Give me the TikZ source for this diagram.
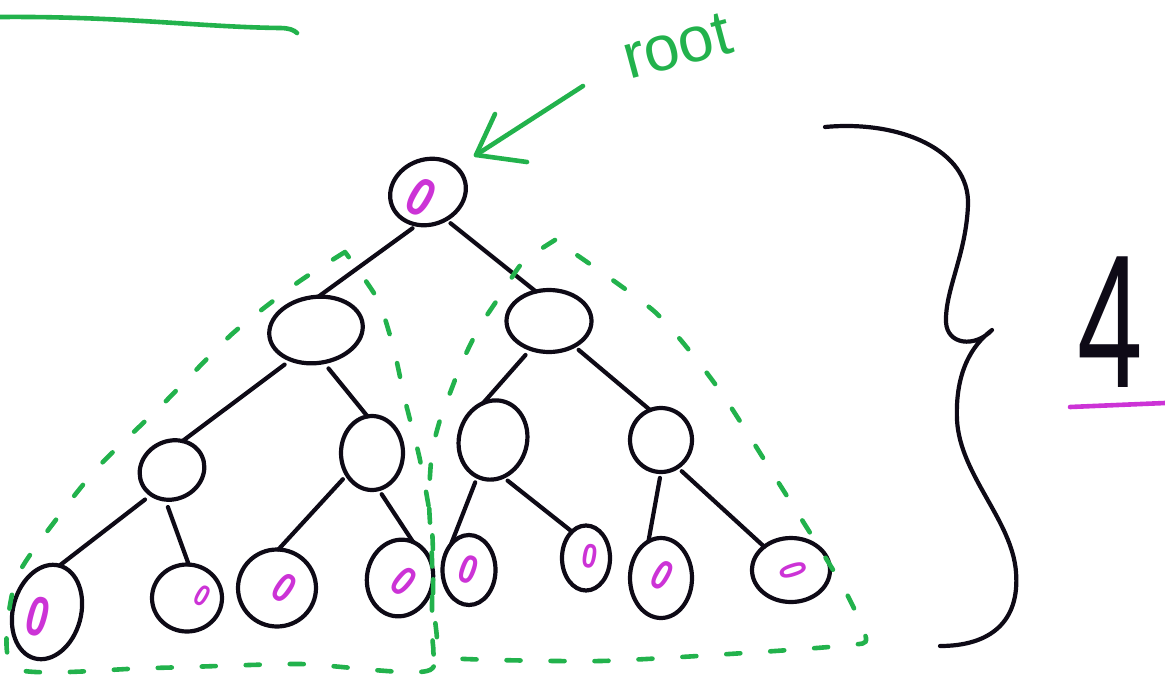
\documentclass[tikz,border=0pt]{standalone}
\usepackage{fontspec}
\setmainfont{Liberation Sans}
\usetikzlibrary{shapes.geometric}
\definecolor{penG}{RGB}{34,178,76}
\definecolor{penM}{RGB}{204,51,214}
\definecolor{penK}{RGB}{14,10,22}
\tikzset{
  nd/.style={ellipse, draw=penK, line width=4.2pt, inner sep=0pt, outer sep=0pt},
  edge/.style={draw=penK, line width=4.2pt, line cap=round, line join=round},
  zero/.style={text=penM, inner sep=0pt, font=\fontsize{#1}{#1}\selectfont\bfseries},
  gdash/.style={draw=penG, line width=4.6pt, line cap=round, dash pattern=on 14pt off 30pt},
  gline/.style={draw=penG, line width=4.6pt, line cap=round, line join=round},
  mline/.style={draw=penM, line width=4.6pt, line cap=round},
}
\begin{document}
\begin{tikzpicture}[x=1pt,y=-1pt]
\useasboundingbox (0,0) rectangle (1165,681);
% tree nodes
\node[nd, minimum width=77pt, minimum height=65pt, rotate=20] (root) at (428,192) {};
\node[nd, minimum width=94pt, minimum height=66pt, rotate=8] (a) at (316,330) {};
\node[nd, minimum width=85pt, minimum height=62pt] (b) at (549,321) {};
\node[nd, minimum width=66pt, minimum height=58pt, rotate=25] (aa) at (172,470) {};
\node[nd, minimum width=62pt, minimum height=74pt] (ab) at (372,453) {};
\node[nd, minimum width=68pt, minimum height=80pt, rotate=-15] (ba) at (493,440) {};
\node[nd, minimum width=62pt, minimum height=64pt] (bb) at (661,440) {};
\node[nd, minimum width=68pt, minimum height=96pt, rotate=-15] (l1) at (47,612) {};
\node[nd, minimum width=70pt, minimum height=67pt] (l2) at (187,598) {};
\node[nd, minimum width=78pt, minimum height=77pt] (l3) at (277,588) {};
\node[nd, minimum width=66pt, minimum height=77pt, rotate=-10] (l4) at (400,578) {};
\node[nd, minimum width=53pt, minimum height=70pt] (l5) at (469,570) {};
\node[nd, minimum width=48pt, minimum height=65pt] (l6) at (586,558) {};
\node[nd, minimum width=62pt, minimum height=80pt] (l7) at (661,578) {};
\node[nd, minimum width=78pt, minimum height=64pt] (l8) at (791,570) {};
% magenta zeros
\node[zero=54, rotate=-30, xscale=0.8] (z0) at (421,197) {0};
\node[zero=56, rotate=-15, xscale=0.7] (z1) at (38,617) {0};
\node[zero=30, rotate=-30, xscale=0.8] (z2) at (202,596) {0};
\node[zero=42, rotate=-35, xscale=0.8] (z3) at (284,588) {0};
\node[zero=42, rotate=-40, xscale=0.8] (z4) at (404,581) {0};
\node[zero=40, rotate=-20, xscale=0.8] (z5) at (469,570) {0};
\node[zero=34, rotate=-10, xscale=0.8] (z6) at (590,556) {0};
\node[zero=42, rotate=-30, xscale=0.75] (z7) at (662,575) {0};
\node[zero=38, rotate=-72, xscale=0.7] (z8) at (793,570) {0};
% edges
\draw[edge, shorten <=6pt] (root.232) -- (a.78);
\draw[edge, shorten <=6pt] (root.283) -- (b.114);
\draw[edge, shorten <=8pt] (a.222) -- (aa.45);
\draw[edge, shorten <=8pt] (a.275) -- (ab.97);
\draw[edge, shorten <=8pt] (b.237) -- (ba.120);
\draw[edge, shorten <=6pt] (b.315) -- (bb.110);
\draw[edge, shorten <=8pt] (aa.205) -- (l1.90);
\draw[edge, shorten <=8pt] (aa.232) -- (l2.87);
\draw[edge, shorten <=6pt] (ab.221) -- (l3.88);
\draw[edge, shorten <=6pt] (ab.280) -- (l4.80);
\draw[edge, shorten <=6pt] (ba.262) -- (l5.125);
\draw[edge, shorten <=6pt] (ba.300) -- (l6.118);
\draw[edge, shorten <=6pt] (bb.270) -- (l7.109);
\draw[edge, shorten <=6pt] (bb.301) -- (l8.139);
% green dashed subtree outlines
\draw[gdash] plot[smooth, tension=0.4] coordinates {(345,252) (297,283) (232,334) (165,402) (100,465) (58,517) (15,582) (14,668) (150,668) (300,664) (430,670) (433,600) (432,530) (420,460) (405,400) (394,350) (378,300) (345,252)};
\draw[gdash] plot[smooth, tension=0.4] coordinates {(555,240) (523,262) (502,293) (480,326) (463,360) (450,393) (440,420) (432,452) (429,500) (432,560) (433,645) (447,658) (600,661) (760,652) (850,645) (866,638) (842,585) (780,485) (718,388) (655,312) (555,240)};
% arrow and label
\coordinate (arrS) at (583,86);
\coordinate (arrT) at (476,155);
\coordinate (arrA) at (495,114);
\coordinate (arrB) at (527,162);
\draw[gline] (arrS) -- (arrT);
\draw[gline] (arrA) -- (arrT) -- (arrB);
\node[text=penG, font=\fontsize{64}{64}\selectfont, rotate=15, inner sep=0pt] (lbl) at (677,46) {root};
% top-left line
\draw[gline] (0,17) .. controls (120,16) and (200,27) .. (280,28) .. controls (289,28) and (294,30) .. (297,33);
% brace
\draw[edge] (825,127) .. controls (900,120) and (970,150) .. (968,205)
  .. controls (966,255) and (945,290) .. (946,322)
  .. controls (947,345) and (975,348) .. (992,330)
  .. controls (972,345) and (955,372) .. (957,420)
  .. controls (960,475) and (1012,520) .. (1016,572)
  .. controls (1020,622) and (990,646) .. (940,646);
% 4 with underline
\node[text=penK, font=\fontsize{190}{190}\selectfont, xscale=0.62, inner sep=0pt] (four) at (1110,322) {4};
\draw[mline] (1070,407) -- (1165,403);
\end{tikzpicture}
\end{document}
